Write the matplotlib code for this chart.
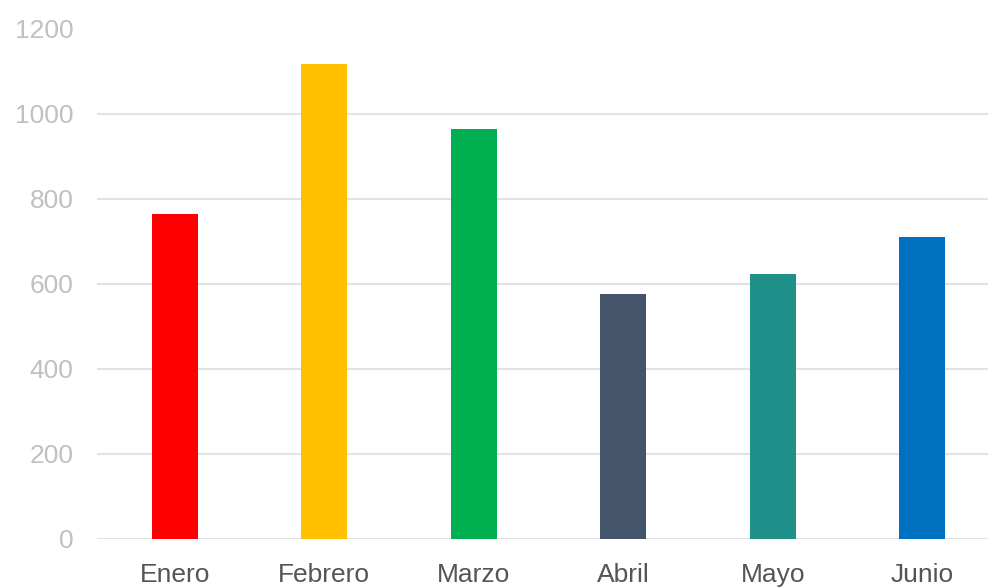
import matplotlib
matplotlib.use("Agg")
import matplotlib.pyplot as plt

meses = ["Enero", "Febrero", "Marzo", "Abril", "Mayo", "Junio"]
valores = [763, 1116, 964, 575, 624, 709]
colores = ["#ff0000", "#ffc000", "#00b050", "#44546a", "#1f8f8a", "#0070c0"]
y_ticks = [0, 200, 400, 600, 800, 1000, 1200]

plt.rcParams['font.family'] = ['Liberation Sans', 'DejaVu Sans']

fig = plt.figure(figsize=(9.88, 5.88), dpi=100)
ax = fig.add_axes([97 / 988, 1 - 539 / 588, 1 - 97 / 988, (539 - 28.5) / 588])

x = list(range(len(meses)))
ax.bar(x, valores, width=0.31, color=colores, zorder=3)

ax.set_ylim(0, 1200)
ax.set_xlim(-0.52, 5.44)
ax.set_yticks(y_ticks)
ax.set_xticks(x)
ax.set_xticklabels(meses)

ax.grid(axis='y', color='#e2e2e2', linewidth=1.5, zorder=0)
for s in ax.spines.values():
    s.set_visible(False)

ax.tick_params(axis='y', length=0, pad=17, labelsize=19, labelcolor='#c0c0c0')
ax.tick_params(axis='x', length=0, pad=17, labelsize=19, labelcolor='#555555')

fig.savefig("out.png", dpi=100)
